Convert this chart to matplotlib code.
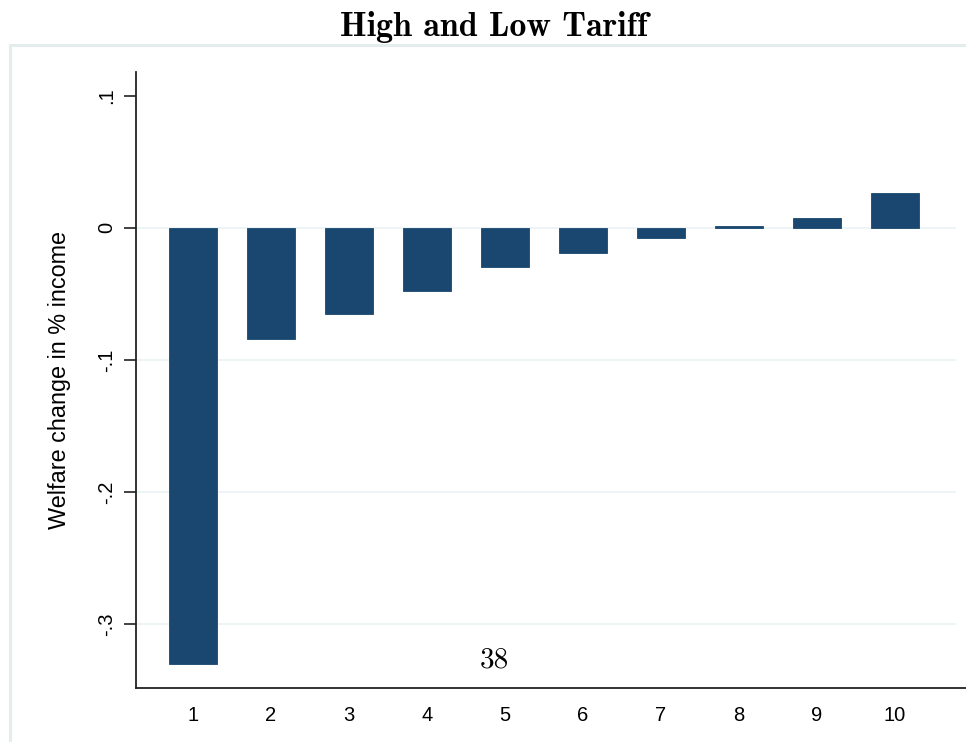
import matplotlib
matplotlib.use("Agg")
import matplotlib.pyplot as plt
from matplotlib.lines import Line2D

# === Data ===
deciles = [1, 2, 3, 4, 5, 6, 7, 8, 9, 10]
welfare_change = [-0.330, -0.084, -0.065, -0.048, -0.030, -0.019, -0.0076, 0.0012, 0.0076, 0.026]
y_ticks = [0.1, 0.0, -0.1, -0.2, -0.3]
y_tick_labels = [".1", "0", "-.1", "-.2", "-.3"]
grid_values = [0.0, -0.1, -0.2, -0.3]

title_text = "High and Low Tariff"
y_label = "Welfare change in % income"
page_number = "38"

BAR_COLOR = "#1a476f"
GRID_COLOR = "#eaf2f3"
FRAME_COLOR = "#e4ecee"

fig = plt.figure(figsize=(9.66, 7.42), dpi=100)
fig.patch.set_facecolor("white")

# outer frame of the slide graphic (top and left edges only, the rest is cropped)
fig.add_artist(Line2D([10 / 966, 1.0], [1 - 45 / 742, 1 - 45 / 742], color=FRAME_COLOR, lw=2.2,
                      transform=fig.transFigure))
fig.add_artist(Line2D([10 / 966, 10 / 966], [0.0, 1 - 45 / 742], color=FRAME_COLOR, lw=2.2,
                      transform=fig.transFigure))

ax = fig.add_axes([136 / 966, 1 - 688 / 742, 1 - 136 / 966, (688 - 72) / 742])
ax.set_xlim(0.269, 10.91)
ax.set_ylim(-0.3485, 0.118)

for g in grid_values:
    ax.plot([0.269, 10.77], [g, g], color=GRID_COLOR, lw=1.2, zorder=0)

ax.bar(deciles, welfare_change, width=0.62, color=BAR_COLOR, edgecolor=BAR_COLOR, lw=0.6, zorder=2)

for side in ["top", "right"]:
    ax.spines[side].set_visible(False)
for side in ["left", "bottom"]:
    ax.spines[side].set_linewidth(1.3)
    ax.spines[side].set_color("#222222")

ax.set_xticks(deciles)
ax.set_xticklabels([str(d) for d in deciles], fontsize=14.5, family="Liberation Sans")
ax.tick_params(axis="x", length=0, pad=13)

ax.set_yticks(y_ticks)
ax.set_yticklabels(y_tick_labels, fontsize=14.5, family="Liberation Sans", rotation=90, va="center")
ax.tick_params(axis="y", length=9, width=1.3, color="#333333", pad=5)

ax.set_ylabel(y_label, fontsize=16.8, family="Liberation Sans")
ax.yaxis.set_label_coords(-65 / 830, 0.5)

fig.text(494 / 966, 1 - 27 / 742, title_text, ha="center", va="center", fontsize=24.5,
         family="cmb10")
fig.text(494 / 966, 1 - 660 / 742, page_number, ha="center", va="center", fontsize=21,
         family="cmr10")

fig.savefig("out.png", dpi=100)
